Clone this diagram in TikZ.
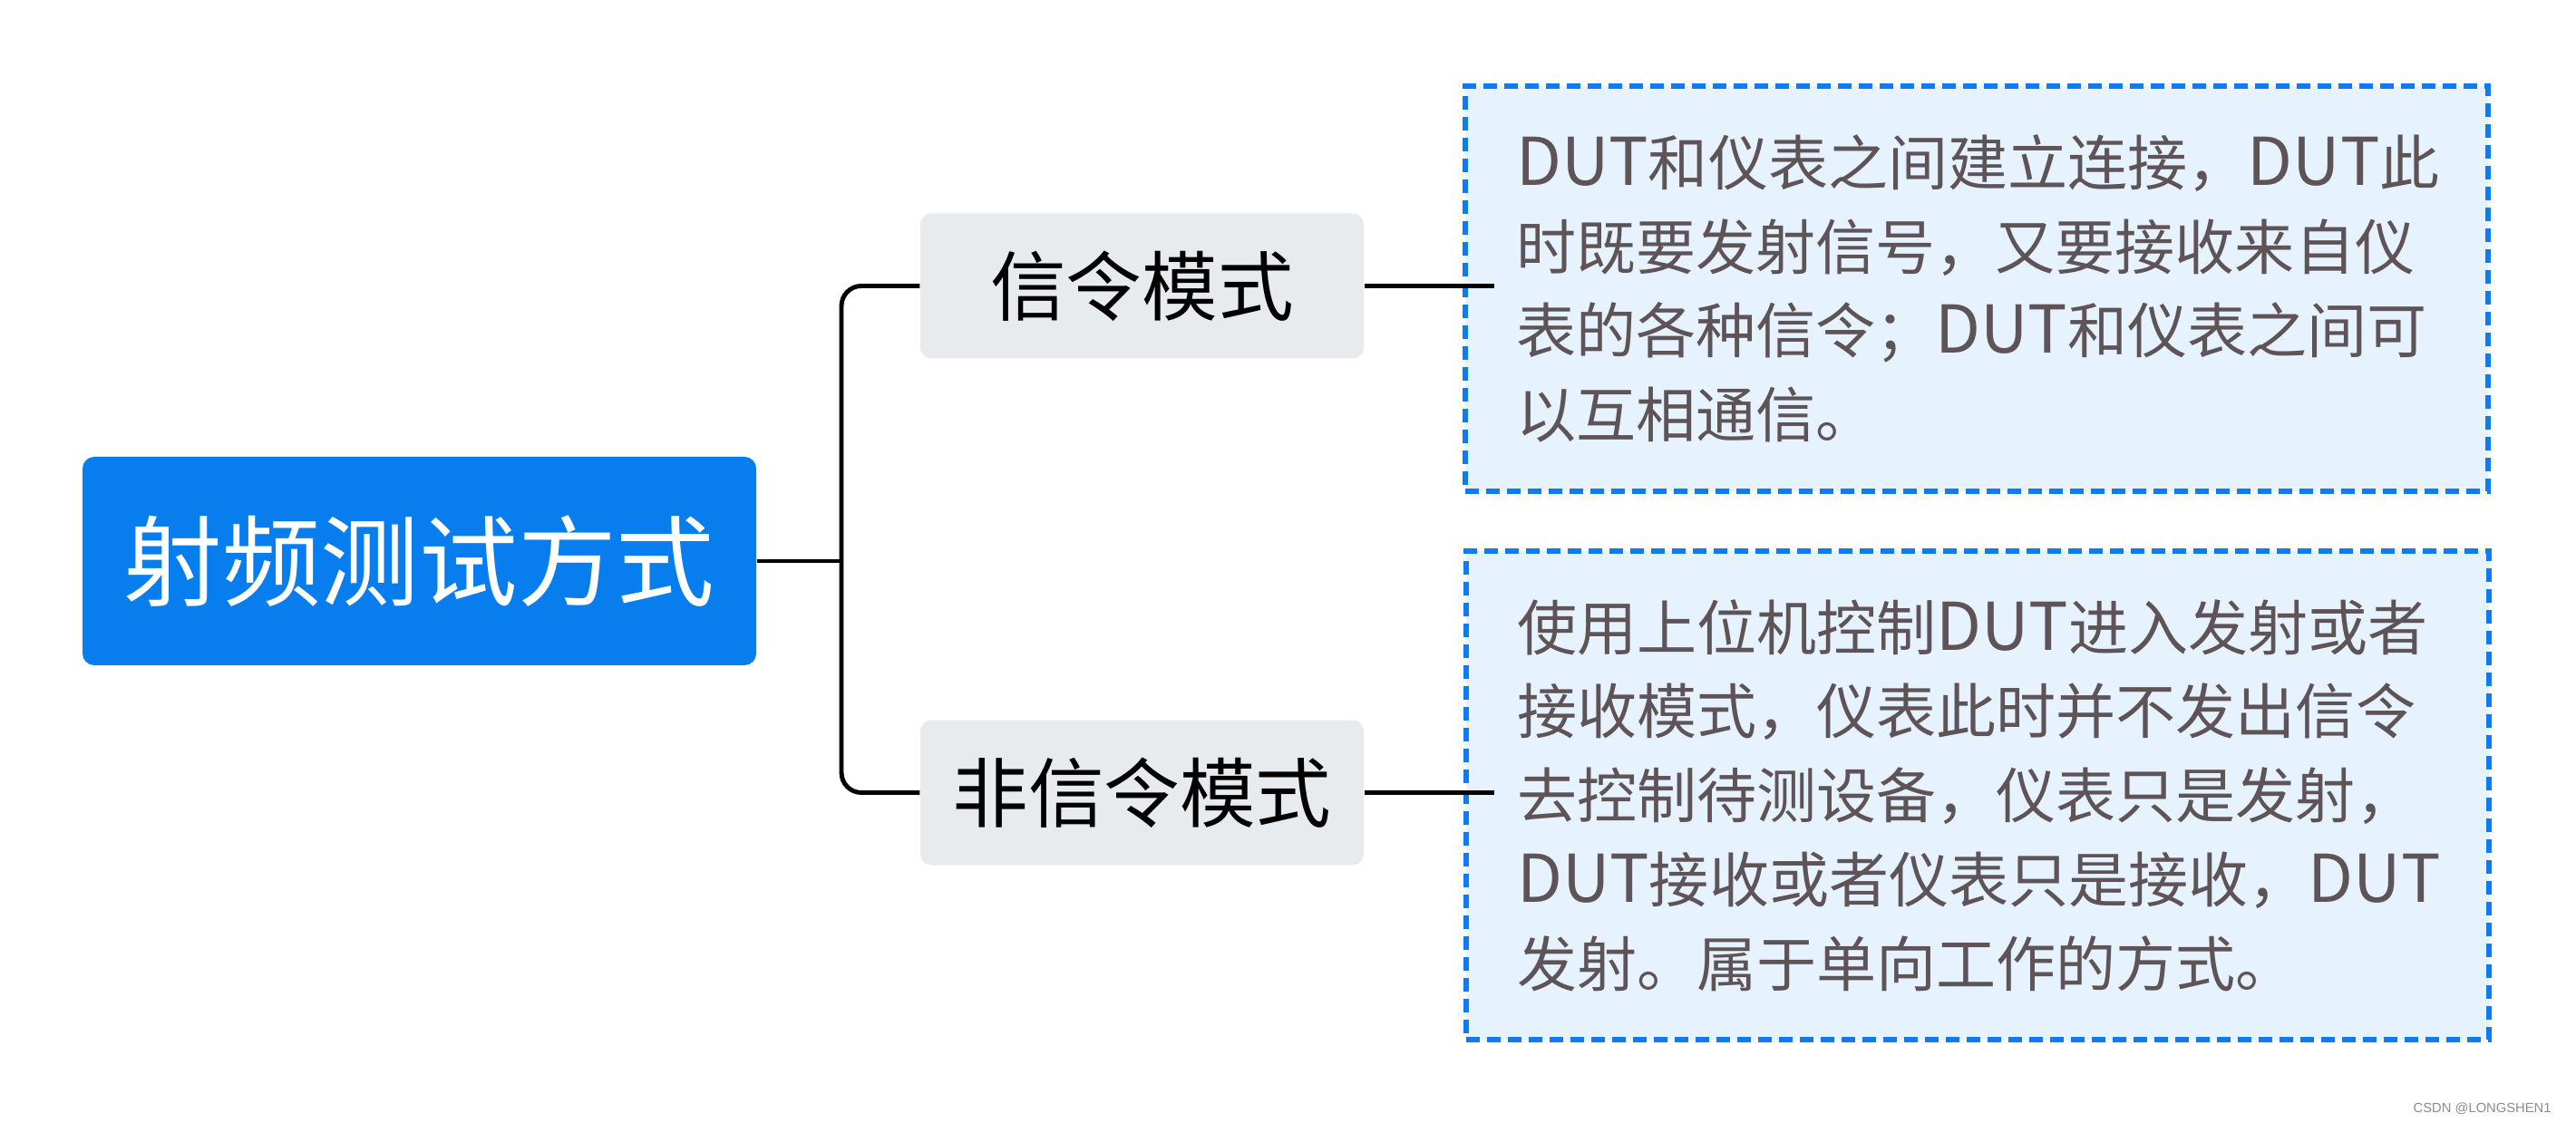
\documentclass[tikz,border=0pt]{standalone}
\usepackage{fontspec}
\setmainfont{Noto Sans CJK SC}
\newfontfamily\latinfont{Noto Sans CJK SC}[Scale=1.1]
\newfontfamily\markfont{Liberation Sans}
\usetikzlibrary{positioning,calc}
\definecolor{rootblue}{RGB}{8,125,238}
\definecolor{childgray}{RGB}{232,235,238}
\definecolor{notefill}{RGB}{230,242,253}
\definecolor{noteline}{RGB}{14,124,240}
\definecolor{notetext}{RGB}{94,84,88}
\newcommand{\dut}{{\latinfont DUT}}

\begin{document}
\begin{tikzpicture}[
  rootbox/.style={fill=rootblue, rounded corners=0.13cm, text=white,
    minimum width=7.43cm, minimum height=2.30cm, font=\fontsize{30.9pt}{36pt}\selectfont},
  childbox/.style={fill=childgray, rounded corners=0.12cm, text=black,
    minimum width=4.89cm, minimum height=1.60cm, font=\fontsize{23.8pt}{28pt}\selectfont},
  notebox/.style={fill=notefill, draw=noteline, line width=1.45pt,
    dash pattern=on 0.15cm off 0.08cm, text=notetext, align=left,
    text width=10.16cm, inner xsep=0.56cm, inner ysep=0pt,
    font=\fontsize{18.8pt}{26.4pt}\selectfont},
  link/.style={line width=1.4pt, black}]
\useasboundingbox (0,0) rectangle (28.41,12.38);
\fill[white] (0,0) rectangle (28.41,12.38);

% Root and branches
\node[rootbox] (root) at (4.625,6.19) {射频测试方式};
\node[childbox] (sig) at (12.595,9.225) {信令模式};
\node[childbox] (nonsig) at (12.595,3.635) {非信令模式};

% Notes
\node[notebox, minimum height=4.47cm] (signote) at (21.80,9.195)
  {\dut 和仪表之间建立连接，\dut 此\\
   时既要发射信号，又要接收来自仪\\
   表的各种信令；\dut 和仪表之间可\\
   以互相通信。};
\node[notebox, minimum height=5.39cm] (nonsignote) at (21.81,3.605)
  {使用上位机控制\dut 进入发射或者\\
   接收模式，仪表此时并不发出信令\\
   去控制待测设备，仪表只是发射，\\
   \dut 接收或者仪表只是接收，\dut\\
   发射。属于单向工作的方式。};

% Connectors
\coordinate (fork) at (9.28,6.19);
\coordinate (sigtip) at (16.48,9.225);
\coordinate (nonsigtip) at (16.48,3.635);
\draw[link] (root.east) -- (fork);
\draw[link, rounded corners=0.22cm] (sig.west) -| (fork) |- (nonsig.west);
\draw[link] (sig.east) -- (sigtip);
\draw[link] (nonsig.east) -- (nonsigtip);

% Watermark
\node[text=black!45, font=\markfont\fontsize{4.2pt}{5pt}\selectfont, anchor=east] (mark) at (28.26,0.15) {CSDN @LONGSHEN1};
\end{tikzpicture}
\end{document}
